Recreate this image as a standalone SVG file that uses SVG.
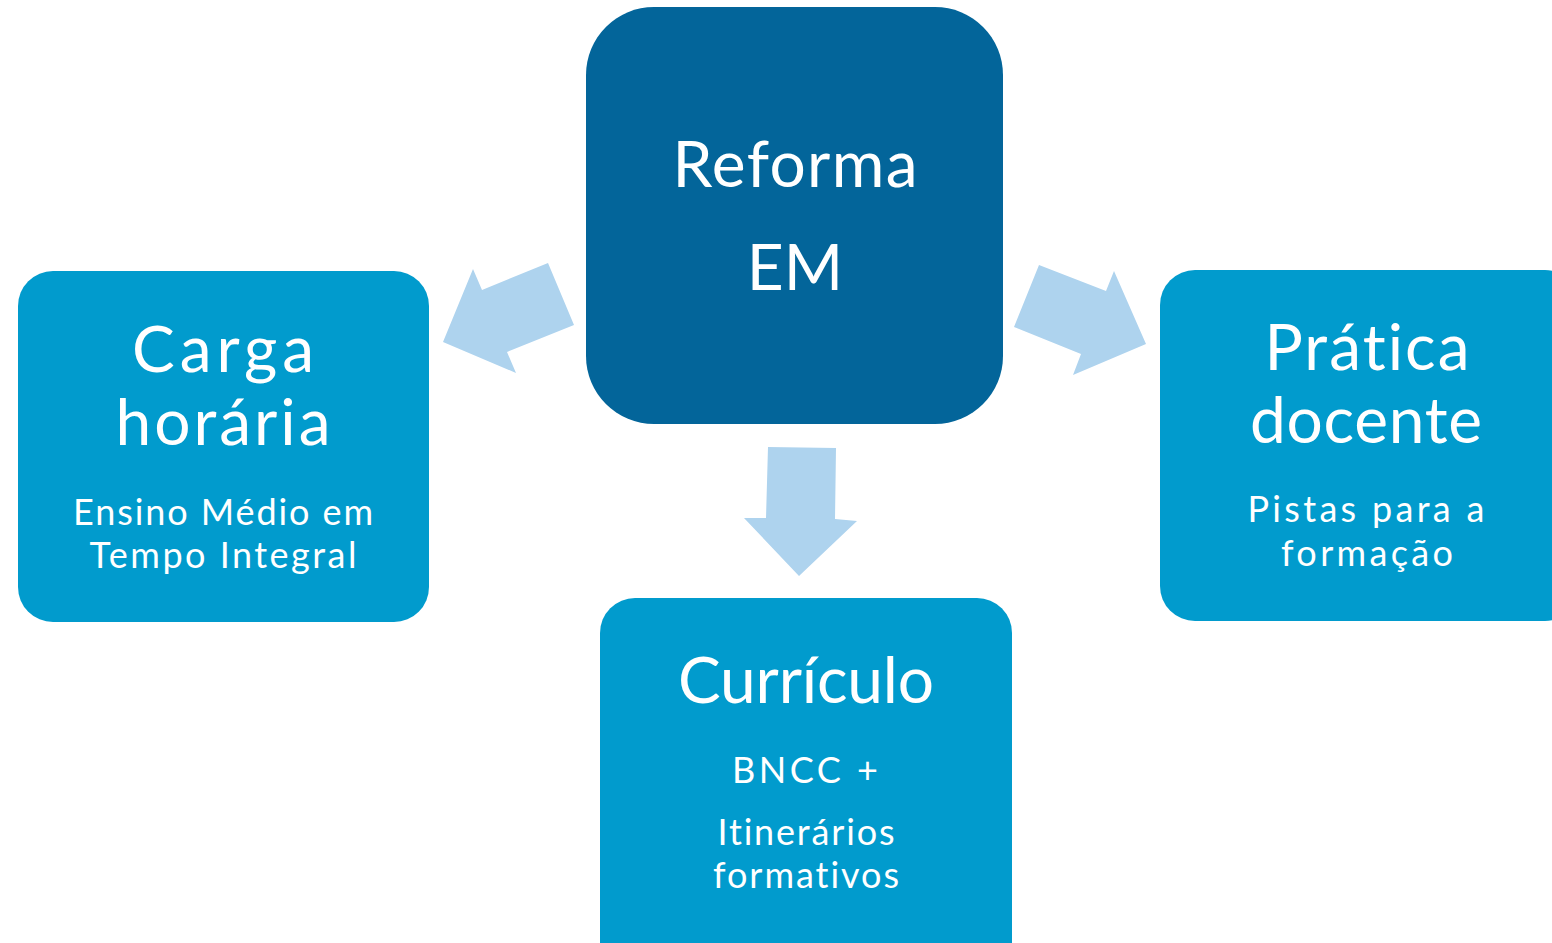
<svg xmlns="http://www.w3.org/2000/svg" width="1552" height="943" viewBox="0 0 1552 943">
<style>
.box{fill:#019bcd}
.main{fill:#03659a}
.arrow{fill:#aed3ee}
text{font-family:Lato,"Noto Sans",sans-serif;fill:#ffffff;text-anchor:middle;font-variant-ligatures:none}
.big{font-size:64px}
.small{font-size:36px}
</style>
<rect width="1552" height="943" fill="#ffffff"/>
<g id="connectors">
<polygon class="arrow" points="548,263 574,325 507,352 516,373 443,342 473,269 482,290"/>
<polygon class="arrow" points="1039,265 1106,291 1114,271 1146,344 1073,375 1081,354 1014,327"/>
<polygon class="arrow" points="768,447 836,448 835,519 857,521 799,576 744,518 766,518"/>
</g>
<g id="node-reforma">
<rect class="main" x="586" y="7" width="417" height="417" rx="68"/>
<text class="big" x="795" y="187" textLength="245" lengthAdjust="spacing">Reforma</text>
<text class="big" x="795" y="290">EM</text>
</g>
<g id="node-carga">
<rect class="box" x="18" y="271" width="411" height="351" rx="35"/>
<text class="big" x="223" y="372" textLength="182" lengthAdjust="spacing">Carga</text>
<text class="big" x="223" y="445" textLength="215" lengthAdjust="spacing">horária</text>
<text class="small" x="223" y="525" textLength="300" lengthAdjust="spacing">Ensino Médio em</text>
<text class="small" x="223" y="568" textLength="267" lengthAdjust="spacing">Tempo Integral</text>
</g>
<g id="node-pratica">
<rect class="box" x="1160" y="270" width="420" height="351" rx="35"/>
<text class="big" x="1367" y="370" textLength="205" lengthAdjust="spacing">Prática</text>
<text class="big" x="1366" y="443" textLength="232" lengthAdjust="spacing">docente</text>
<text class="small" x="1366" y="522" textLength="237" lengthAdjust="spacing">Pistas para a</text>
<text class="small" x="1367" y="566" textLength="172" lengthAdjust="spacing">formação</text>
</g>
<g id="node-curriculo">
<rect class="box" x="600" y="598" width="412" height="380" rx="35"/>
<text class="big" x="806" y="703" textLength="256" lengthAdjust="spacing">Currículo</text>
<text class="small" x="805" y="783" textLength="146" lengthAdjust="spacing">BNCC +</text>
<text class="small" x="806" y="845" textLength="177" lengthAdjust="spacing">Itinerários</text>
<text class="small" x="806" y="888" textLength="186" lengthAdjust="spacing">formativos</text>
</g>
</svg>
